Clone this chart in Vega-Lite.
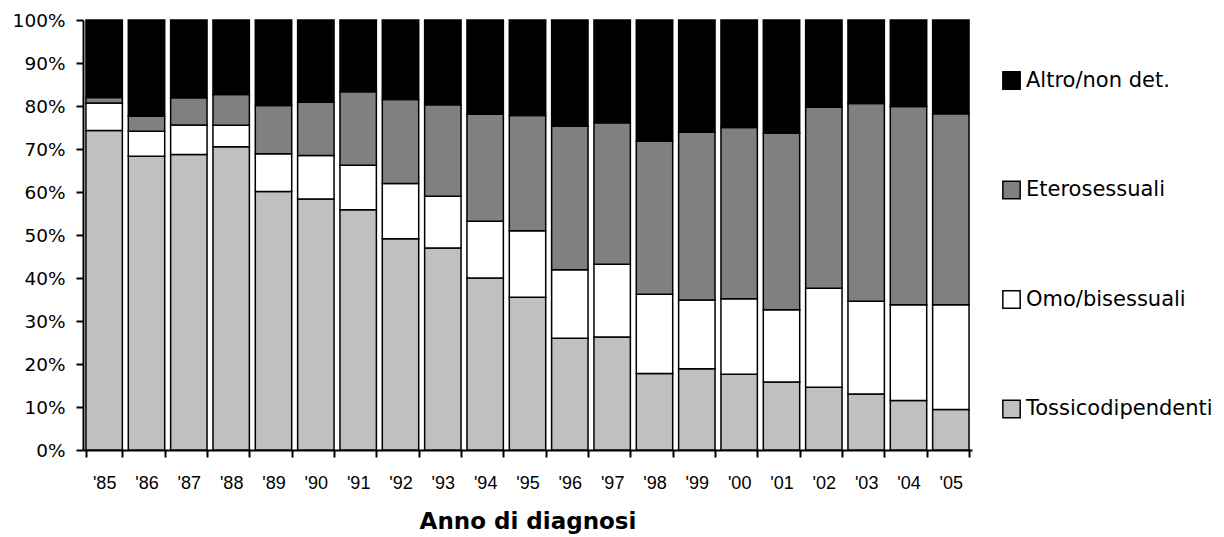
{
  "$schema": "https://vega.github.io/schema/vega-lite/v6.json",
  "width": 889,
  "height": 430,
  "autosize": {"type": "none"},
  "padding": {"left": 83, "top": 20, "right": 252, "bottom": 87},
  "background": "white",
  "config": {"view": {"stroke": null}, "font": "DejaVu Sans"},
  "data": {
    "values": [
      {"anno": "'85", "cat": "Tossicodipendenti", "k": 1, "v": 74.3},
      {"anno": "'85", "cat": "Omo/bisessuali", "k": 2, "v": 6.4},
      {"anno": "'85", "cat": "Eterosessuali", "k": 3, "v": 1.3},
      {"anno": "'85", "cat": "Altro/non det.", "k": 4, "v": 18.0},
      {"anno": "'86", "cat": "Tossicodipendenti", "k": 1, "v": 68.3},
      {"anno": "'86", "cat": "Omo/bisessuali", "k": 2, "v": 5.8},
      {"anno": "'86", "cat": "Eterosessuali", "k": 3, "v": 3.5},
      {"anno": "'86", "cat": "Altro/non det.", "k": 4, "v": 22.4},
      {"anno": "'87", "cat": "Tossicodipendenti", "k": 1, "v": 68.7},
      {"anno": "'87", "cat": "Omo/bisessuali", "k": 2, "v": 6.9},
      {"anno": "'87", "cat": "Eterosessuali", "k": 3, "v": 6.3},
      {"anno": "'87", "cat": "Altro/non det.", "k": 4, "v": 18.1},
      {"anno": "'88", "cat": "Tossicodipendenti", "k": 1, "v": 70.5},
      {"anno": "'88", "cat": "Omo/bisessuali", "k": 2, "v": 5.0},
      {"anno": "'88", "cat": "Eterosessuali", "k": 3, "v": 7.2},
      {"anno": "'88", "cat": "Altro/non det.", "k": 4, "v": 17.3},
      {"anno": "'89", "cat": "Tossicodipendenti", "k": 1, "v": 60.1},
      {"anno": "'89", "cat": "Omo/bisessuali", "k": 2, "v": 8.8},
      {"anno": "'89", "cat": "Eterosessuali", "k": 3, "v": 11.2},
      {"anno": "'89", "cat": "Altro/non det.", "k": 4, "v": 19.9},
      {"anno": "'90", "cat": "Tossicodipendenti", "k": 1, "v": 58.4},
      {"anno": "'90", "cat": "Omo/bisessuali", "k": 2, "v": 10.1},
      {"anno": "'90", "cat": "Eterosessuali", "k": 3, "v": 12.4},
      {"anno": "'90", "cat": "Altro/non det.", "k": 4, "v": 19.1},
      {"anno": "'91", "cat": "Tossicodipendenti", "k": 1, "v": 55.9},
      {"anno": "'91", "cat": "Omo/bisessuali", "k": 2, "v": 10.3},
      {"anno": "'91", "cat": "Eterosessuali", "k": 3, "v": 17.1},
      {"anno": "'91", "cat": "Altro/non det.", "k": 4, "v": 16.7},
      {"anno": "'92", "cat": "Tossicodipendenti", "k": 1, "v": 49.1},
      {"anno": "'92", "cat": "Omo/bisessuali", "k": 2, "v": 12.9},
      {"anno": "'92", "cat": "Eterosessuali", "k": 3, "v": 19.5},
      {"anno": "'92", "cat": "Altro/non det.", "k": 4, "v": 18.5},
      {"anno": "'93", "cat": "Tossicodipendenti", "k": 1, "v": 47.0},
      {"anno": "'93", "cat": "Omo/bisessuali", "k": 2, "v": 12.0},
      {"anno": "'93", "cat": "Eterosessuali", "k": 3, "v": 21.3},
      {"anno": "'93", "cat": "Altro/non det.", "k": 4, "v": 19.7},
      {"anno": "'94", "cat": "Tossicodipendenti", "k": 1, "v": 40.0},
      {"anno": "'94", "cat": "Omo/bisessuali", "k": 2, "v": 13.2},
      {"anno": "'94", "cat": "Eterosessuali", "k": 3, "v": 24.9},
      {"anno": "'94", "cat": "Altro/non det.", "k": 4, "v": 21.9},
      {"anno": "'95", "cat": "Tossicodipendenti", "k": 1, "v": 35.5},
      {"anno": "'95", "cat": "Omo/bisessuali", "k": 2, "v": 15.5},
      {"anno": "'95", "cat": "Eterosessuali", "k": 3, "v": 26.8},
      {"anno": "'95", "cat": "Altro/non det.", "k": 4, "v": 22.2},
      {"anno": "'96", "cat": "Tossicodipendenti", "k": 1, "v": 26.0},
      {"anno": "'96", "cat": "Omo/bisessuali", "k": 2, "v": 15.9},
      {"anno": "'96", "cat": "Eterosessuali", "k": 3, "v": 33.4},
      {"anno": "'96", "cat": "Altro/non det.", "k": 4, "v": 24.7},
      {"anno": "'97", "cat": "Tossicodipendenti", "k": 1, "v": 26.3},
      {"anno": "'97", "cat": "Omo/bisessuali", "k": 2, "v": 16.9},
      {"anno": "'97", "cat": "Eterosessuali", "k": 3, "v": 32.9},
      {"anno": "'97", "cat": "Altro/non det.", "k": 4, "v": 23.9},
      {"anno": "'98", "cat": "Tossicodipendenti", "k": 1, "v": 17.8},
      {"anno": "'98", "cat": "Omo/bisessuali", "k": 2, "v": 18.4},
      {"anno": "'98", "cat": "Eterosessuali", "k": 3, "v": 35.6},
      {"anno": "'98", "cat": "Altro/non det.", "k": 4, "v": 28.2},
      {"anno": "'99", "cat": "Tossicodipendenti", "k": 1, "v": 18.9},
      {"anno": "'99", "cat": "Omo/bisessuali", "k": 2, "v": 16.0},
      {"anno": "'99", "cat": "Eterosessuali", "k": 3, "v": 39.0},
      {"anno": "'99", "cat": "Altro/non det.", "k": 4, "v": 26.1},
      {"anno": "'00", "cat": "Tossicodipendenti", "k": 1, "v": 17.6},
      {"anno": "'00", "cat": "Omo/bisessuali", "k": 2, "v": 17.6},
      {"anno": "'00", "cat": "Eterosessuali", "k": 3, "v": 39.8},
      {"anno": "'00", "cat": "Altro/non det.", "k": 4, "v": 25.0},
      {"anno": "'01", "cat": "Tossicodipendenti", "k": 1, "v": 15.8},
      {"anno": "'01", "cat": "Omo/bisessuali", "k": 2, "v": 16.8},
      {"anno": "'01", "cat": "Eterosessuali", "k": 3, "v": 41.1},
      {"anno": "'01", "cat": "Altro/non det.", "k": 4, "v": 26.3},
      {"anno": "'02", "cat": "Tossicodipendenti", "k": 1, "v": 14.6},
      {"anno": "'02", "cat": "Omo/bisessuali", "k": 2, "v": 23.0},
      {"anno": "'02", "cat": "Eterosessuali", "k": 3, "v": 42.1},
      {"anno": "'02", "cat": "Altro/non det.", "k": 4, "v": 20.3},
      {"anno": "'03", "cat": "Tossicodipendenti", "k": 1, "v": 13.0},
      {"anno": "'03", "cat": "Omo/bisessuali", "k": 2, "v": 21.6},
      {"anno": "'03", "cat": "Eterosessuali", "k": 3, "v": 46.0},
      {"anno": "'03", "cat": "Altro/non det.", "k": 4, "v": 19.4},
      {"anno": "'04", "cat": "Tossicodipendenti", "k": 1, "v": 11.5},
      {"anno": "'04", "cat": "Omo/bisessuali", "k": 2, "v": 22.3},
      {"anno": "'04", "cat": "Eterosessuali", "k": 3, "v": 46.1},
      {"anno": "'04", "cat": "Altro/non det.", "k": 4, "v": 20.1},
      {"anno": "'05", "cat": "Tossicodipendenti", "k": 1, "v": 9.4},
      {"anno": "'05", "cat": "Omo/bisessuali", "k": 2, "v": 24.4},
      {"anno": "'05", "cat": "Eterosessuali", "k": 3, "v": 44.4},
      {"anno": "'05", "cat": "Altro/non det.", "k": 4, "v": 21.8}
    ]
  },
  "mark": {"type": "bar", "stroke": "black", "strokeWidth": 1.5},
  "encoding": {
    "x": {
      "field": "anno",
      "type": "nominal",
      "sort": null,
      "scale": {"paddingInner": 0.14, "paddingOuter": 0.07},
      "axis": {
        "title": "Anno di diagnosi",
        "titleFont": "DejaVu Sans",
        "titleFontSize": 23,
        "titleFontWeight": "bold",
        "titleColor": "black",
        "titlePadding": 18,
        "labelAngle": 0,
        "labelFont": "Liberation Sans",
        "labelFontSize": 18,
        "labelColor": "black",
        "labelPadding": 17,
        "tickBand": "extent",
        "tickColor": "black",
        "tickWidth": 2,
        "tickSize": 7,
        "domainColor": "black",
        "domainWidth": 2,
        "grid": false
      }
    },
    "y": {
      "field": "v",
      "type": "quantitative",
      "stack": "normalize",
      "scale": {"domain": [0, 1]},
      "axis": {
        "title": null,
        "format": ".0%",
        "values": [0, 0.1, 0.2, 0.3, 0.4, 0.5, 0.6, 0.7, 0.8, 0.9, 1],
        "labelFont": "DejaVu Sans",
        "labelFontSize": 18.5,
        "labelColor": "black",
        "labelPadding": 11,
        "tickColor": "black",
        "tickWidth": 2,
        "tickSize": 7,
        "domainColor": "black",
        "domainWidth": 2,
        "grid": false
      }
    },
    "color": {
      "field": "cat",
      "type": "nominal",
      "scale": {
        "domain": ["Altro/non det.", "Eterosessuali", "Omo/bisessuali", "Tossicodipendenti"],
        "range": ["#000000", "#808080", "#ffffff", "#c0c0c0"]
      },
      "legend": {
        "title": null,
        "orient": "none",
        "legendX": 918,
        "legendY": 50,
        "symbolType": "square",
        "symbolSize": 300,
        "symbolStrokeColor": "black",
        "symbolStrokeWidth": 1.5,
        "symbolOpacity": 1,
        "labelFont": "DejaVu Sans",
        "labelFontSize": 21,
        "labelColor": "black",
        "labelOffset": 4,
        "labelLimit": 300,
        "rowPadding": 84.5
      }
    },
    "order": {"field": "k", "type": "quantitative"}
  }
}
